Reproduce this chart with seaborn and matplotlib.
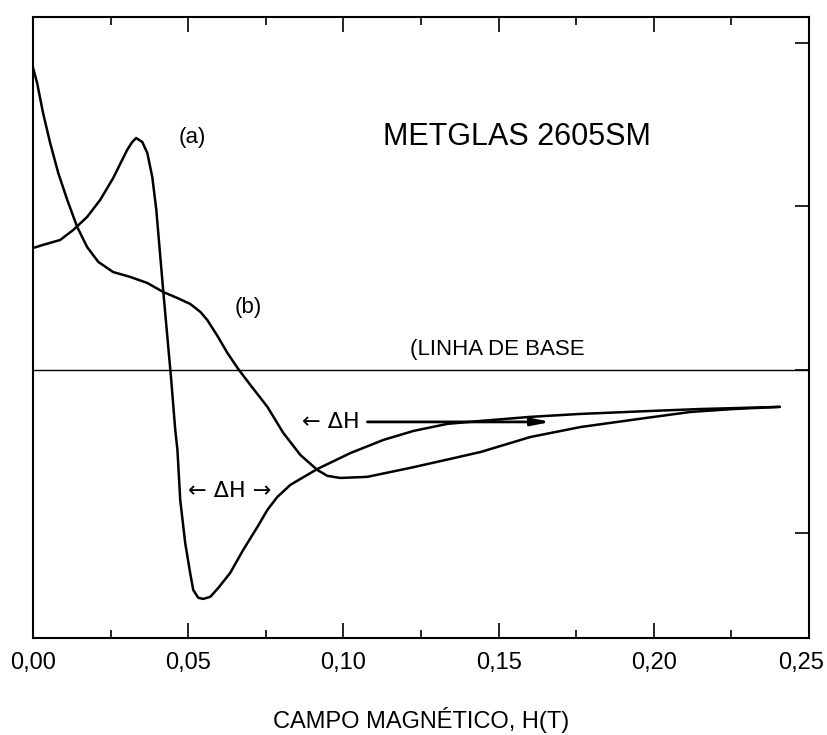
import matplotlib
matplotlib.use("Agg")
import matplotlib.pyplot as plt
from matplotlib.ticker import MultipleLocator, FuncFormatter
from matplotlib.transforms import ScaledTranslation
import pandas as pd
import seaborn as sns

# curve (a): signal vs field H (T)
h_a = [0.0000, 0.0032, 0.0087, 0.0129, 0.0174, 0.0216, 0.0258, 0.0303, 0.0319, 0.0332,
       0.0352, 0.0368, 0.0384, 0.0397, 0.0406, 0.0419, 0.0432, 0.0445, 0.0458, 0.0465,
       0.0474, 0.0490, 0.0506, 0.0516, 0.0532, 0.0548, 0.0571, 0.0597, 0.0635, 0.0677,
       0.0723, 0.0755, 0.0787, 0.0829, 0.0916, 0.1023, 0.1129, 0.1226, 0.1335, 0.1442,
       0.1603, 0.1765, 0.1990, 0.2152, 0.2406]
y_a = [0.746, 0.765, 0.795, 0.856, 0.936, 1.040, 1.174, 1.346, 1.394, 1.419,
       1.394, 1.327, 1.180, 0.979, 0.777, 0.489, 0.214, -0.061, -0.367, -0.489,
       -0.795, -1.058, -1.242, -1.346, -1.394, -1.401, -1.388, -1.333, -1.242, -1.101,
       -0.960, -0.856, -0.777, -0.703, -0.606, -0.508, -0.428, -0.373, -0.330, -0.312,
       -0.287, -0.269, -0.251, -0.239, -0.226]

# curve (b)
h_b = [0.0000, 0.0013, 0.0032, 0.0055, 0.0081, 0.0110, 0.0142, 0.0174, 0.0210, 0.0258,
       0.0313, 0.0368, 0.0419, 0.0465, 0.0506, 0.0539, 0.0561, 0.0594, 0.0626, 0.0661,
       0.0700, 0.0755, 0.0806, 0.0861, 0.0916, 0.0948, 0.0990, 0.1077, 0.1216, 0.1345,
       0.1442, 0.1603, 0.1765, 0.1974, 0.2119, 0.2258, 0.2406]
y_b = [1.847, 1.755, 1.572, 1.388, 1.205, 1.040, 0.875, 0.752, 0.661, 0.599,
       0.569, 0.532, 0.477, 0.440, 0.404, 0.355, 0.306, 0.208, 0.104, 0.006,
       -0.092, -0.226, -0.385, -0.520, -0.612, -0.648, -0.661, -0.654, -0.599, -0.544,
       -0.502, -0.410, -0.349, -0.294, -0.257, -0.239, -0.226]

x_ticks = [0.00, 0.05, 0.10, 0.15, 0.20, 0.25]

df_a = pd.DataFrame({"H": h_a, "y": y_a})
df_b = pd.DataFrame({"H": h_b, "y": y_b})

sns.set_style("ticks")
plt.rcParams["font.family"] = ["Liberation Sans", "DejaVu Sans"]
plt.rcParams.update({"text.color": "black", "axes.labelcolor": "black",
                     "xtick.color": "black", "ytick.color": "black"})

fig, ax = plt.subplots(figsize=(8.28, 7.35), dpi=100)
fig.subplots_adjust(left=0.040, right=0.977, top=0.977, bottom=0.132)

line_kw = dict(color="black", linewidth=1.8, sort=False,
               solid_joinstyle="round", solid_capstyle="round")
sns.lineplot(data=df_a, x="H", y="y", ax=ax, **line_kw)
sns.lineplot(data=df_b, x="H", y="y", ax=ax, **line_kw)
ax.axhline(0, color="black", linewidth=1.0)

ax.set_xlim(0, 0.25)
ax.set_ylim(-1.64, 2.16)

ax.set_xticks(x_ticks)
ax.xaxis.set_minor_locator(MultipleLocator(0.025))
ax.xaxis.set_major_formatter(FuncFormatter(lambda v, p: f"{v:.2f}".replace(".", ",")))
ax.tick_params(axis="x", which="major", direction="in", length=11, width=1.2,
               top=True, labelsize=17, pad=10)
ax.tick_params(axis="x", which="minor", direction="in", length=6, width=1.2, top=True)
ax.set_yticks([-1, 0, 1, 2])
ax.tick_params(axis="y", which="both", direction="in", length=10, width=1.2,
               left=False, right=True, labelleft=False, labelright=False)
for s in ax.spines.values():
    s.set_linewidth(1.5)
    s.set_color("black")

# keep the last tick label inside the figure
last = ax.get_xticklabels()[-1]
last.set_transform(last.get_transform() + ScaledTranslation(-6 / 72, 0, fig.dpi_scale_trans))

ax.set_xlabel("CAMPO MAGNÉTICO, H(T)", fontsize=17, labelpad=24)
ax.set_ylabel("")

ax.text(0.0513, 1.425, "(a)", fontsize=16, ha="center", va="center")
ax.text(0.156, 1.425, "METGLAS 2605SM", fontsize=22, ha="center", va="center")
ax.text(0.0694, 0.385, "(b)", fontsize=16, ha="center", va="center")
ax.text(0.1216, 0.122, "(LINHA DE BASE", fontsize=16, ha="left", va="center")
ax.text(0.0632, -0.740, "← ΔH →", fontsize=16, ha="center", va="center",
        family=["DejaVu Sans"])
ax.text(0.0868, -0.320, "← ΔH", fontsize=16, ha="left", va="center",
        family=["DejaVu Sans"])
ax.annotate("", xy=(0.1668, -0.318), xytext=(0.1077, -0.318),
            arrowprops=dict(arrowstyle="-|>,head_length=1.1,head_width=0.22",
                            color="black", lw=2.0, shrinkA=0, shrinkB=0))

fig.savefig("out.png", dpi=100)
